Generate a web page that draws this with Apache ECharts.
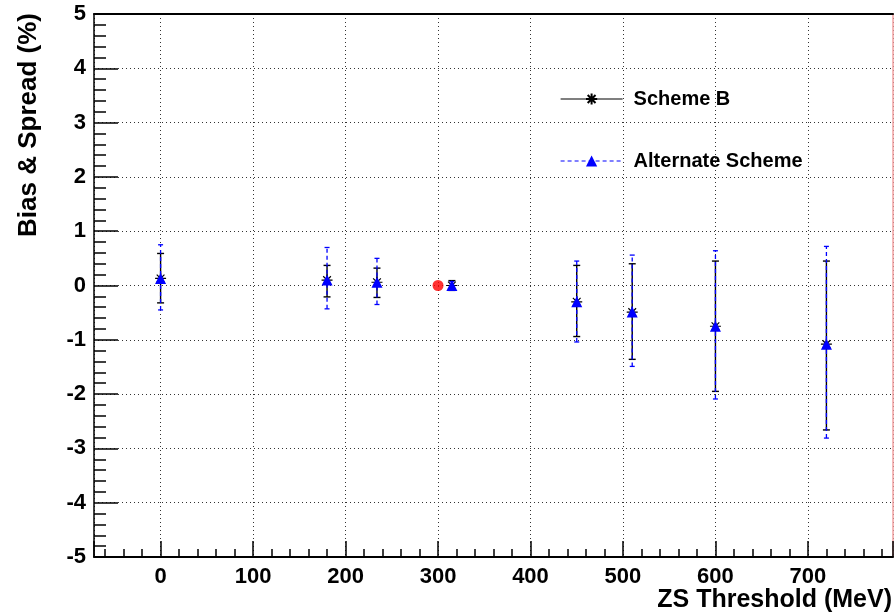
<!DOCTYPE html>
<html>
<head>
<meta charset="utf-8">
<script src="https://cdn.jsdelivr.net/npm/echarts@6/dist/echarts.min.js"></script>
<style>
html,body{margin:0;padding:0;background:#fff;}
#chart{width:895px;height:614px;}
</style>
</head>
<body>
<div id="chart"></div>
<script>
// ---- data ----
const xValues   = [0, 180, 234, 315, 450, 510, 600, 720];
const schemeBMean = [0.13, 0.10, 0.06, 0.00, -0.30, -0.49, -0.75, -1.08];
const schemeBLow  = [-0.32, -0.21, -0.22, -0.09, -0.94, -1.36, -1.95, -2.66];
const schemeBHigh = [0.59, 0.37, 0.32, 0.09, 0.37, 0.40, 0.45, 0.45];
const altMean = [0.13, 0.10, 0.06, 0.00, -0.30, -0.49, -0.75, -1.08];
const altLow  = [-0.45, -0.43, -0.35, -0.07, -1.04, -1.49, -2.09, -2.81];
const altHigh = [0.75, 0.70, 0.50, 0.07, 0.45, 0.56, 0.64, 0.72];
const refPoint = [[300, 0]];
const seriesNames = ['Scheme B', 'Alternate Scheme'];
const xTitle = 'ZS Threshold (MeV)';
const yTitle = 'Bias & Spread (%)';

const FONT = 'Liberation Sans, Arial, Helvetica, sans-serif';
const starPath = 'path://M5,0L5,10M0,5L10,5M1.5,1.5L8.5,8.5M1.5,8.5L8.5,1.5';

function pts(xs, ys) { return xs.map((x, i) => [x, ys[i]]); }
function errs(xs, lo, hi) { return xs.map((x, i) => [x, lo[i], hi[i]]); }

function errRender(color, dash, capHalf, width) {
  return function (params, api) {
    const x = api.value(0), lo = api.value(1), hi = api.value(2);
    const a = api.coord([x, lo]), b = api.coord([x, hi]);
    const st = { stroke: color, lineWidth: width, lineDash: dash };
    const cst = { stroke: color, lineWidth: width };
    return {
      type: 'group',
      children: [
        { type: 'line', shape: { x1: a[0], y1: a[1], x2: b[0], y2: b[1] }, style: st },
        { type: 'line', shape: { x1: a[0] - capHalf, y1: a[1], x2: a[0] + capHalf, y2: a[1] }, style: cst },
        { type: 'line', shape: { x1: b[0] - capHalf, y1: b[1], x2: b[0] + capHalf, y2: b[1] }, style: cst }
      ]
    };
  };
}

const chart = echarts.init(document.getElementById('chart'), null, { renderer: 'canvas' });

const tickLabel = { fontFamily: FONT, fontWeight: 'bold', fontSize: 22, color: '#000' };

chart.setOption({
  animation: false,
  backgroundColor: '#fff',
  grid: { left: 94, right: 1, top: 14, bottom: 57, show: false },
  legend: {
    orient: 'vertical',
    left: 560,
    top: 89,
    padding: 0,
    itemWidth: 62,
    itemHeight: 14,
    itemGap: 42,
    selectedMode: false,
    textStyle: { fontFamily: FONT, fontWeight: 'bold', fontSize: 20, color: '#000', lineHeight: 20, padding: [0, 0, 0, 6] },
    data: [
      { name: seriesNames[0], lineStyle: { color: '#000', width: 1.2, type: 'solid', opacity: 1 } },
      { name: seriesNames[1], lineStyle: { color: '#0000ff', width: 1.2, type: [4, 3], opacity: 1 } }
    ]
  },
  xAxis: [{
    type: 'value',
    min: -72, max: 792,
    splitNumber: 9,
    position: 'bottom',
    name: xTitle,
    nameLocation: 'end',
    nameGap: -1,
    nameMoveOverlap: false,
    nameTextStyle: { fontFamily: FONT, fontWeight: 'bold', fontSize: 25, color: '#000', align: 'right', verticalAlign: 'top', lineHeight: 25, padding: [31, 0, 0, 0] },
    axisLine: { show: true, onZero: false, lineStyle: { color: '#000', width: 2 } },
    axisTick: { show: true, inside: true, length: 16, lineStyle: { color: '#000', width: 1.5 } },
    minorTick: { show: true, splitNumber: 5, length: 8, lineStyle: { color: '#000', width: 1.5 } },
    axisLabel: Object.assign({ margin: 9, showMinLabel: false, showMaxLabel: false }, tickLabel),
    splitLine: { show: true, lineStyle: { type: [1, 3], color: '#333', width: 1 } }
  }, {
    type: 'value',
    min: -72, max: 792,
    position: 'top',
    axisLine: { show: true, onZero: false, lineStyle: { color: '#000', width: 2 } },
    axisTick: { show: false }, axisLabel: { show: false }, splitLine: { show: false }
  }],
  yAxis: [{
    type: 'value',
    min: -5, max: 5, interval: 1,
    position: 'left',
    name: yTitle,
    nameLocation: 'end',
    nameGap: 1,
    nameRotate: 90,
    nameMoveOverlap: false,
    nameTextStyle: { fontFamily: FONT, fontWeight: 'bold', fontSize: 26, color: '#000', align: 'right', verticalAlign: 'bottom', lineHeight: 26, padding: [0, 0, 52, 0] },
    axisLine: { show: true, onZero: false, lineStyle: { color: '#000', width: 1.5 } },
    axisTick: { show: true, inside: true, length: 24, lineStyle: { color: '#000', width: 1.5 } },
    minorTick: { show: true, splitNumber: 5, length: 12, lineStyle: { color: '#000', width: 1.5 } },
    axisLabel: Object.assign({ margin: 8 }, tickLabel),
    splitLine: { show: true, lineStyle: { type: [1, 3], color: '#333', width: 1 } }
  }, {
    type: 'value',
    min: -5, max: 5,
    position: 'right',
    axisLine: { show: true, onZero: false, lineStyle: { color: '#f2a0a0', width: 1.5 } },
    axisTick: { show: false }, axisLabel: { show: false }, splitLine: { show: false }
  }],
  series: [
    {
      name: seriesNames[0], type: 'line', z: 3, silent: true,
      data: pts(xValues, schemeBMean),
      symbol: starPath, symbolSize: 11, showSymbol: true, showAllSymbol: true,
      itemStyle: { color: '#000', borderColor: '#000', borderWidth: 1.2 },
      lineStyle: { opacity: 0 }
    },
    {
      name: seriesNames[1], type: 'line', z: 5, silent: true,
      data: pts(xValues, altMean),
      symbol: 'triangle', symbolSize: 11, showSymbol: true, showAllSymbol: true,
      itemStyle: { color: '#0000ff', borderWidth: 0 },
      lineStyle: { opacity: 0 }
    },
    {
      name: seriesNames[0], type: 'custom', z: 2, silent: true,
      renderItem: errRender('#000', null, 3.5, 1.4),
      encode: { x: 0, y: [1, 2] },
      data: errs(xValues, schemeBLow, schemeBHigh)
    },
    {
      name: seriesNames[1], type: 'custom', z: 4, silent: true,
      renderItem: errRender('#0000ff', [4, 3], 2.5, 1.3),
      encode: { x: 0, y: [1, 2] },
      data: errs(xValues, altLow, altHigh)
    },
    {
      name: 'Reference', type: 'scatter', z: 6, silent: true,
      data: refPoint, symbol: 'circle', symbolSize: 11,
      itemStyle: { color: '#ff0000' }
    }
  ]
});
</script>
</body>
</html>
